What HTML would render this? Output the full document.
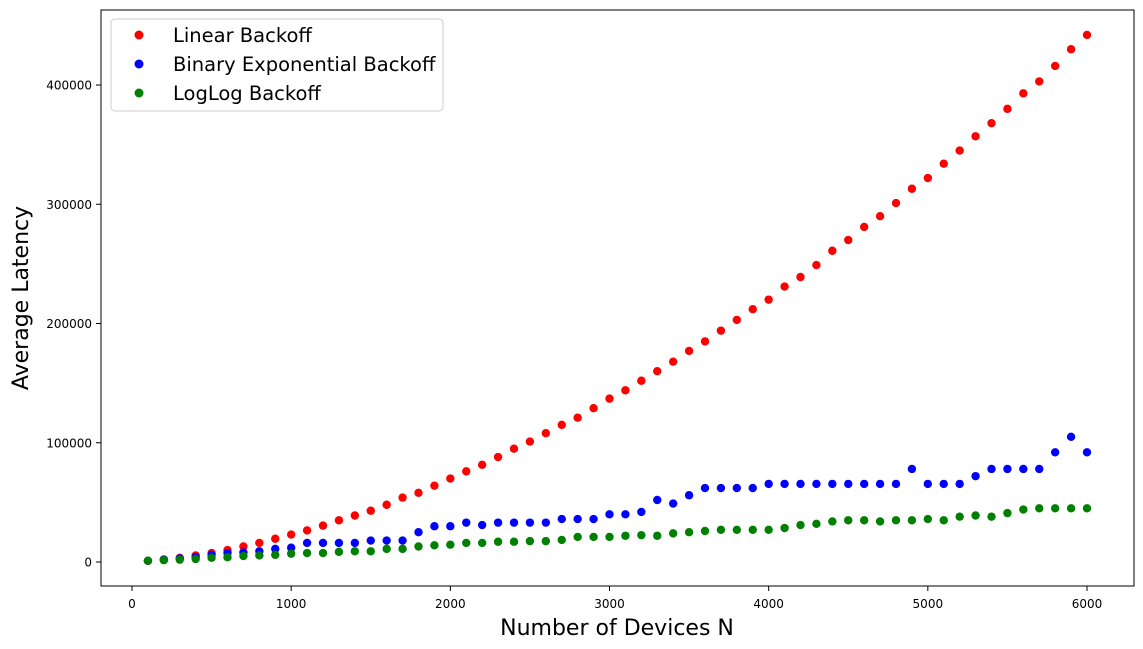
<!DOCTYPE html>
<html><head><meta charset="utf-8"><style>
html,body{margin:0;padding:0;background:#fff;}
svg{display:block;font-family:"DejaVu Sans","Liberation Sans",sans-serif;}
</style></head><body>
<svg id="chart" width="1143" height="649">
<rect x="101" y="10" width="1033" height="576" fill="#fff" stroke="#000" stroke-width="1"/>
<g id="ticks"></g>
<g id="marks"></g>
<text x="617" y="635" font-size="22" text-anchor="middle">Number of Devices N</text>
<text transform="translate(28,298) rotate(-90)" font-size="22" text-anchor="middle">Average Latency</text>
<g>
<rect x="111" y="19" width="332" height="92" rx="4" fill="#fff" stroke="#ccc" stroke-width="1"/>
<circle cx="139" cy="35" r="4.5" fill="#ff0000"/>
<text x="173" y="42" font-size="19.5">Linear Backoff</text>
<circle cx="139" cy="64" r="4.5" fill="#0000ff"/>
<text x="173" y="71" font-size="19.5">Binary Exponential Backoff</text>
<circle cx="139" cy="93" r="4.5" fill="#008000"/>
<text x="173" y="100" font-size="19.5">LogLog Backoff</text>
</g>
</svg>
<script>
const devices = [];
for (let n = 100; n <= 6000; n += 100) devices.push(n);
const linearValues = [1000,2000,3500,5500,7500,10000,13000,16000,19500,23000,26500,30500,35000,39000,43000,48000,54000,58000,64000,70000,76000,81500,88000,95000,101000,108000,115000,121000,129000,137000,144000,152000,160000,168000,177000,185000,194000,203000,212000,220000,231000,239000,249000,261000,270000,281000,290000,301000,313000,322000,334000,345000,357000,368000,380000,393000,403000,416000,430000,442000];
const binaryValues = [1000,2000,3000,4000,6000,7500,8000,9000,11000,12000,16000,16000,16000,16000,18000,18000,18000,25000,30000,30000,33000,31000,33000,33000,33000,33000,36000,36000,36000,40000,40000,42000,52000,49000,56000,62000,62000,62000,62000,65500,65500,65500,65500,65500,65500,65500,65500,65500,78000,65500,65500,65500,72000,78000,78000,78000,78000,92000,105000,92000];
const loglogValues = [1000,1500,2000,2500,3500,4000,5000,5500,6000,7000,7500,7500,8500,9000,9000,11000,11000,13000,14000,14500,16000,16000,17000,17000,17500,17500,18500,21000,21000,21000,22000,22500,22000,24000,25000,26000,27000,27000,27000,27000,28500,31000,32000,34000,35000,35000,34000,35000,35000,36000,35000,38000,39000,38000,41000,44000,45000,45000,45000,45000];
const xTicks = [0,1000,2000,3000,4000,5000,6000];
const yTicks = [0,100000,200000,300000,400000];
const NS = "http://www.w3.org/2000/svg";
function xScale(v){ return 132 + v * (1087 - 132) / 6000; }
function yScale(v){ return 562 - v * (562 - 85) / 400000; }
const tg = document.getElementById('ticks');
xTicks.forEach(t => {
  const l = document.createElementNS(NS,'line');
  l.setAttribute('x1',xScale(t)); l.setAttribute('x2',xScale(t));
  l.setAttribute('y1',586); l.setAttribute('y2',591); l.setAttribute('stroke','#000');
  
  
  tg.appendChild(l);
  const tx = document.createElementNS(NS,'text');
  tx.setAttribute('x',xScale(t)); tx.setAttribute('y',608);
  tx.setAttribute('font-size','12'); tx.setAttribute('text-anchor','middle');
  tx.textContent = t;
  
  
  tg.appendChild(tx);
});
yTicks.forEach(t => {
  const l = document.createElementNS(NS,'line');
  l.setAttribute('x1',96); l.setAttribute('x2',101);
  l.setAttribute('y1',yScale(t)); l.setAttribute('y2',yScale(t)); l.setAttribute('stroke','#000');
  
  
  tg.appendChild(l);
  const tx = document.createElementNS(NS,'text');
  tx.setAttribute('x',92); tx.setAttribute('y',yScale(t)+4.5);
  tx.setAttribute('font-size','12'); tx.setAttribute('text-anchor','end');
  tx.textContent = t;
  
  
  tg.appendChild(tx);
});
const mg = document.getElementById('marks');
function drawSeries(vals, color, name){
  vals.forEach((v,i) => {
    const c = document.createElementNS(NS,'circle');
    c.setAttribute('cx', xScale(devices[i]));
    c.setAttribute('cy', yScale(v));
    c.setAttribute('r', 4.2);
    c.setAttribute('fill', color);
    
    
    mg.appendChild(c);
  });
}
drawSeries(linearValues,'#ff0000','linear-point');
drawSeries(binaryValues,'#0000ff','binary-point');
drawSeries(loglogValues,'#008000','loglog-point');
</script>
</body></html>
